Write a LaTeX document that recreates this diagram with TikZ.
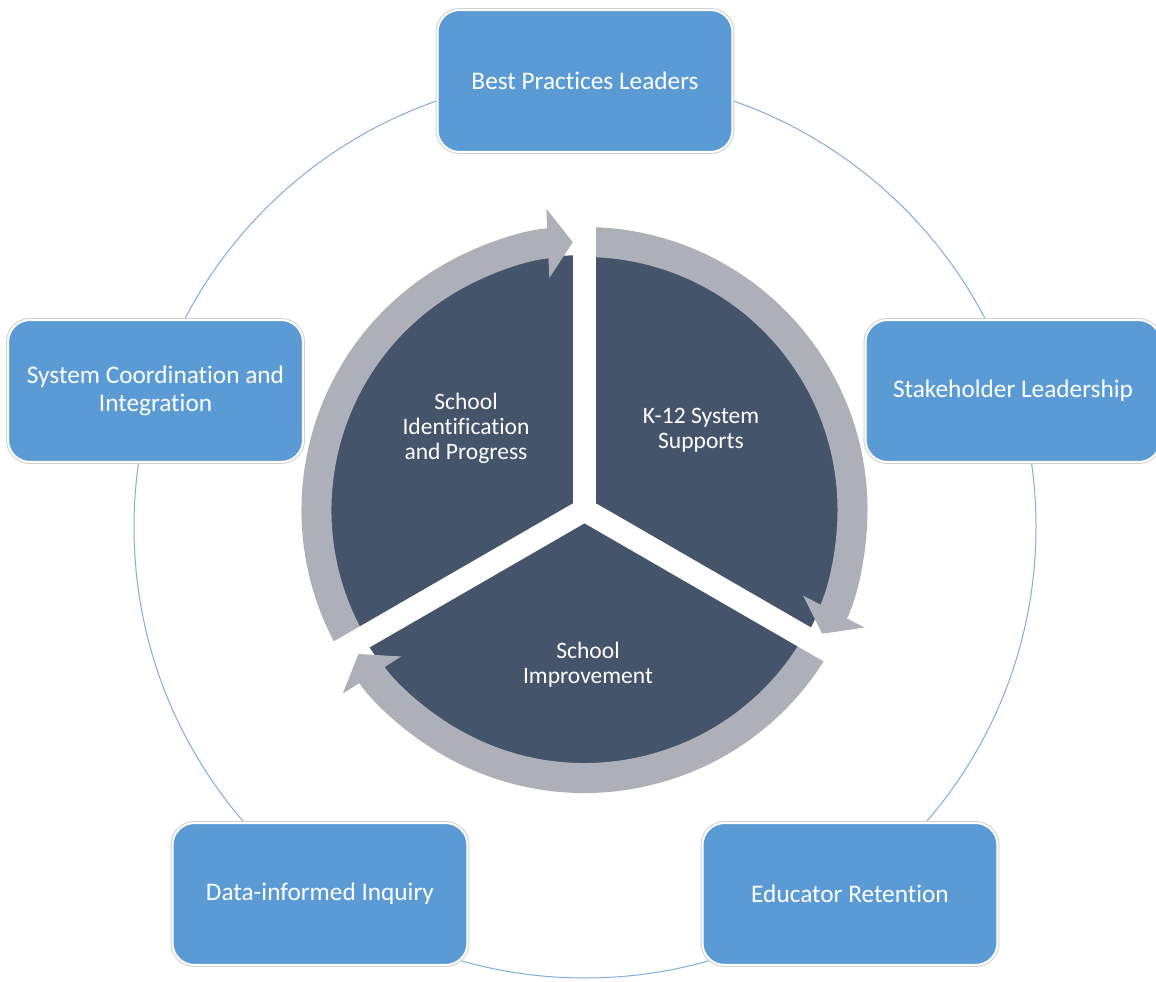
\documentclass[tikz,border=0pt]{standalone}
\usepackage{fontspec}
\setmainfont{Carlito}[Ligatures=NoCommon]
\usepackage{tikz}
\usetikzlibrary{arrows.meta,positioning}

\definecolor{boxblue}{RGB}{91,155,213}
\definecolor{slate}{RGB}{68,84,106}
\definecolor{ringgray}{RGB}{173,176,184}
\definecolor{rimblue}{RGB}{126,174,222}

\begin{document}
\begin{tikzpicture}[
                x=0.02cm, y=0.02cm,
                outerbox/.style={rounded corners=0.44cm, fill=boxblue, draw=white, line width=0.04cm,
                    preaction={draw=black!18, line width=0.08cm},
                    minimum width=5.9cm, minimum height=2.84cm, text=white, align=center,
                    font=\fontsize{14.4}{16}\selectfont},
                sectortext/.style={text=white, align=center, font=\fontsize{13.4}{14.3}\selectfont},
                ringarrow/.style={draw=ringgray, line width=0.6cm, -{Triangle[width=1.36cm, length=0.5cm]}},
                gapline/.style={draw=white, line width=0.46cm}
            ]
            \clip (0,0) rectangle (1156,981);

            % outer circle
            \draw[rimblue, line width=0.02cm] (585,454) circle (451);

            % wheel
            \coordinate (C) at (584.5,471);
            \fill[slate] (C) circle (255);

            \draw[ringarrow] ([shift={(210:268)}]C) arc (210:92.5:268);
            \draw[ringarrow] ([shift={(90:268)}]C) arc (90:-27.5:268);
            \draw[ringarrow] ([shift={(-30:268)}]C) arc (-30:-147.5:268);

            \draw[gapline] (C) -- ++(90:300);
            \draw[gapline] (C) -- ++(210:300);
            \draw[gapline] (C) -- ++(330:300);
            \fill[white] (C) circle (11.5);

            \node[sectortext] (Identification) at (466,553) {School\\Identification\\and Progress};
            \node[sectortext] (Supports) at (701,551) {K-12 System\\Supports};
            \node[sectortext] (Improvement) at (588,316) {School\\Improvement};

            \node[outerbox] (BestPractices) at (585,900) {Best Practices Leaders};
            \node[outerbox] (Stakeholder) at (1013,590) {Stakeholder Leadership};
            \node[outerbox] (Retention) at (850,87) {Educator Retention};
            \node[outerbox] (Inquiry) at (320,87) {Data-informed Inquiry};
            \node[outerbox] (Coordination) at (155.5,590) {System Coordination and\\Integration};
        \end{tikzpicture}
\end{document}
